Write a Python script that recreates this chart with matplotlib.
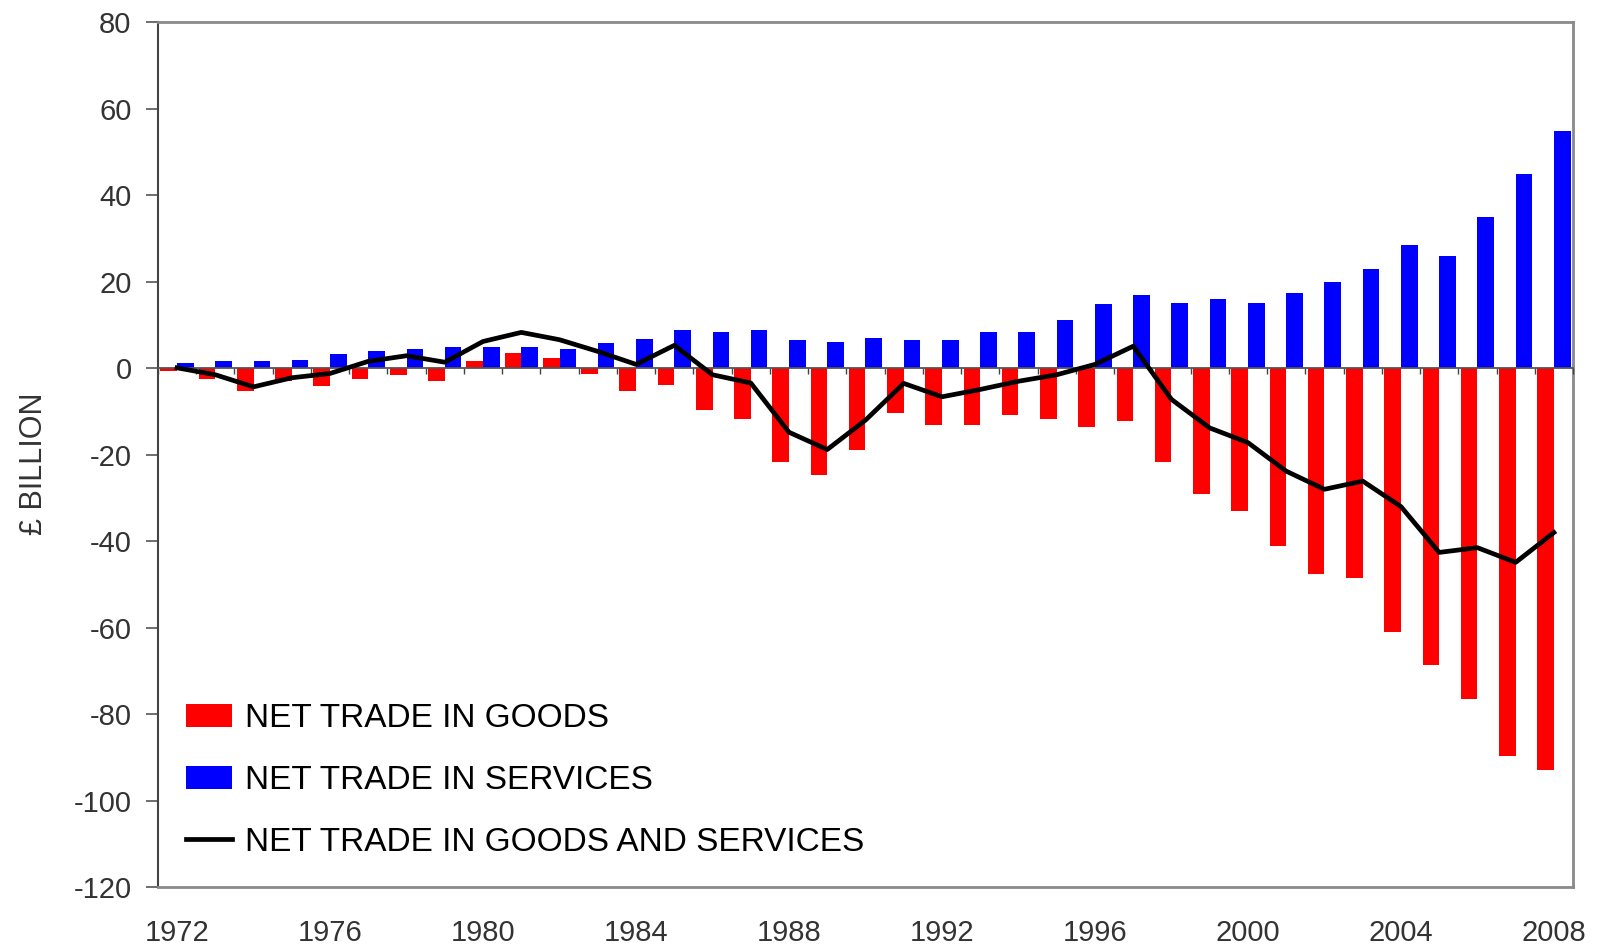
import numpy as np
import matplotlib
matplotlib.use("Agg")
import matplotlib.pyplot as plt

plt.rcParams['font.family'] = ['Liberation Sans', 'DejaVu Sans']
plt.rcParams['axes.unicode_minus'] = False

years = list(range(1972, 2009))
goods = [-0.7, -2.5, -5.2, -3.0, -4.0, -2.4, -1.5, -3.0, 1.6, 3.6,
         2.4, -1.4, -5.2, -3.8, -9.7, -11.8, -21.7, -24.8, -18.8, -10.3,
         -13.2, -13.2, -10.9, -11.8, -13.6, -12.2, -21.7, -29.2, -33.0, -41.1,
         -47.6, -48.6, -61.0, -68.6, -76.5, -89.6, -92.9]
services = [1.2, 1.6, 1.6, 1.9, 3.4, 4.0, 4.5, 5.0, 5.0, 5.0,
            4.5, 5.8, 6.8, 8.8, 8.3, 8.8, 6.6, 6.1, 7.0, 6.6,
            6.6, 8.3, 8.3, 11.2, 14.9, 17.0, 15.2, 16.1, 15.2, 17.4,
            19.9, 22.9, 28.6, 26.0, 35.0, 45.0, 54.9]
net = [0.1, -1.5, -4.3, -2.2, -1.2, 1.6, 2.9, 1.4, 6.2, 8.3,
       6.6, 3.9, 0.9, 5.3, -1.5, -3.4, -14.8, -18.8, -12.0, -3.5,
       -6.6, -4.9, -3.0, -1.5, 0.9, 5.1, -7.2, -13.8, -17.2, -23.8,
       -28.0, -26.1, -32.0, -42.6, -41.5, -44.9, -38.0]
tick_years = list(range(1972, 2009, 4))

x = np.arange(len(years))
w = 0.436

fig = plt.figure(figsize=(15.97, 9.51), dpi=100)
ax = fig.add_axes([0.0989, 0.0673, 0.8861, 0.9091])

b1 = ax.bar(x, goods, width=-w, align='edge', color='#ff0000', zorder=2)
b2 = ax.bar(x, services, width=w, align='edge', color='#0000ff', zorder=2)
l1, = ax.plot(x, net, color='black', lw=3.4, zorder=4)

ax.set_xlim(-0.5, len(years) - 0.5)
ax.set_ylim(-120, 80)
ax.set_yticks(range(-120, 81, 20))
ax.set_xticks([years.index(y) for y in tick_years])
ax.set_xticklabels([str(y) for y in tick_years])

ax.tick_params(axis='y', length=9, width=1.2, color='#555555', pad=10,
               labelsize=21, labelcolor='#333333')
ax.tick_params(axis='x', length=0, pad=23, labelsize=21, labelcolor='#333333')

for s in ['top', 'right', 'bottom']:
    ax.spines[s].set_color('#8a8a8a')
    ax.spines[s].set_linewidth(2)
ax.spines['left'].set_color('#444444')
ax.spines['left'].set_linewidth(1.5)

# zero line with small category ticks
zero = ax.secondary_xaxis(120 / 200)
zero.set_alignment('bottom')
zero.set_xticks(np.arange(-0.5, len(years), 1))
zero.tick_params(length=4, width=1, color='#444444', labelbottom=False, direction='out')
zero.spines['bottom'].set_color('#555555')
zero.spines['bottom'].set_linewidth(1.3)
zero.set_zorder(3)

ax.set_ylabel('£ BILLION', fontsize=22, color='#333333')
ax.yaxis.set_label_coords(-0.077, 0.49)

ax.legend([b1, b2, l1],
          ['NET TRADE IN GOODS', 'NET TRADE IN SERVICES', 'NET TRADE IN GOODS AND SERVICES'],
          loc='lower left', bbox_to_anchor=(0.020, 0.034), frameon=False,
          fontsize=24, handlelength=1.38, handleheight=0.7, handletextpad=0.37,
          labelspacing=0.92, borderpad=0, borderaxespad=0)

fig.savefig('out.png', dpi=100)
